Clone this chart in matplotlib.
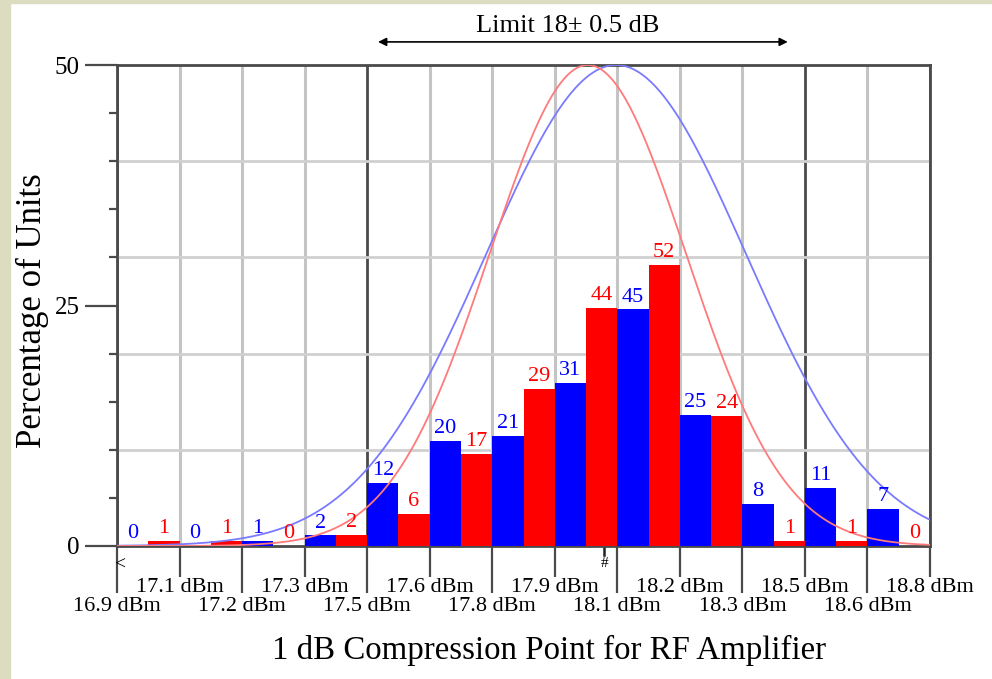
import numpy as np
import matplotlib
matplotlib.use("Agg")
import matplotlib.pyplot as plt
from matplotlib.patches import Rectangle

plt.rcParams['font.family'] = ['Liberation Serif', 'DejaVu Serif']

# tick labels at each grid line (bins between them)
tick_labels = ["16.9 dBm", "17.1 dBm", "17.2 dBm", "17.3 dBm", "17.5 dBm", "17.6 dBm", "17.8 dBm",
               "17.9 dBm", "18.1 dBm", "18.2 dBm", "18.3 dBm", "18.5 dBm", "18.6 dBm", "18.8 dBm"]

# unit counts per bin
blue_counts = [0, 0, 1, 2, 12, 20, 21, 31, 45, 25, 8, 11, 7]
red_counts = [1, 1, 0, 2, 6, 17, 29, 44, 52, 24, 1, 1, 0]

BLUE = "#0000ff"
RED = "#ff0000"

blue_counts = np.array(blue_counts)
red_counts = np.array(red_counts)
blue_pct = blue_counts / blue_counts.sum() * 100
red_pct = red_counts / red_counts.sum() * 100
n = len(blue_counts)
idx = np.arange(n)

fig = plt.figure(figsize=(9.92, 6.79), dpi=100)
# beige frame strips
fig.patches.append(Rectangle((0, 0), 10 / 992, 1, transform=fig.transFigure, color="#dcdcc0", zorder=0))
fig.patches.append(Rectangle((0, 1 - 3 / 679), 1, 3 / 679, transform=fig.transFigure, color="#dcdcc0", zorder=0))

ax = fig.add_axes([117 / 992, 1 - 546 / 679, (930 - 117) / 992, (546 - 65) / 679])
ax.set_xlim(0, n)
ax.set_ylim(0, 50)

# grid
for i in range(n + 1):
    if i in (0, 4, 11, 13):
        ax.axvline(i, color="#4a4a4a", lw=2.0, zorder=1)
    else:
        ax.axvline(i, color="#c4c4c4", lw=2.2, zorder=1)
for y in (10, 20, 30, 40):
    ax.axhline(y, color="#d0d0d0", lw=2.0, zorder=1)

# bars
ax.bar(idx + 0.25, blue_pct, width=0.5, color=BLUE, zorder=3)
ax.bar(idx + 0.75, red_pct, width=0.5, color=RED, zorder=3)
for i in range(n):
    ax.text(i + 0.25, blue_pct[i] + 0.3, str(blue_counts[i]), color=BLUE, ha="center", va="bottom",
            fontsize=16, zorder=5)
    ax.text(i + 0.75, red_pct[i] + 0.3, str(red_counts[i]), color=RED, ha="center", va="bottom",
            fontsize=16, zorder=5)

# fitted normal curves scaled to the top of the chart
xs = np.linspace(0, n, 600)
for counts, col in ((blue_counts, "#7a7aff"), (red_counts, "#ff7a7a")):
    c = idx + 0.5
    mu = (c * counts).sum() / counts.sum()
    sd = np.sqrt(((c - mu) ** 2 * counts).sum() / counts.sum())
    ax.plot(xs, 50 * np.exp(-(xs - mu) ** 2 / (2 * sd ** 2)), color=col, lw=1.3, zorder=4)

# axes styling
for s in ax.spines.values():
    s.set_color("#4a4a4a")
    s.set_linewidth(2.0)
ax.set_yticks([0, 25, 50])
ax.set_yticks(np.arange(5, 50, 5), minor=True)
ax.tick_params(axis="y", which="major", length=23, width=1.6, color="#4a4a4a", labelsize=18, pad=4)
ax.tick_params(axis="y", which="minor", length=6, width=1.6, color="#4a4a4a")

ax.set_xticks(np.arange(0, n + 1, 2))
ax.set_xticklabels(tick_labels[::2])
ax.set_xticks(np.arange(1, n + 1, 2), minor=True)
ax.set_xticklabels(tick_labels[1::2], minor=True)
ax.tick_params(axis="x", which="major", length=34, width=1.6, color="#4a4a4a", labelsize=16, pad=3)
ax.tick_params(axis="x", which="minor", length=22, width=1.6, color="#4a4a4a", labelsize=16, pad=1)

# small marks below the axis
ax.plot([7.79, 7.79], [0, -0.9], color="#222222", lw=1.8, clip_on=False)
ax.text(7.79, -1.8, "#", fontsize=11, ha="center", va="center", clip_on=False)
ax.text(0.05, -2.0, "<", fontsize=14, ha="center", va="center", clip_on=False)

# limit arrow
ax.annotate("", xy=(4.13, 52.4), xytext=(10.77, 52.4), xycoords="data",
            arrowprops=dict(arrowstyle="<|-|>", color="black", lw=1.2, mutation_scale=12),
            annotation_clip=False)
ax.text(7.2, 54.1, "Limit 18\u00b1 0.5 dB", fontsize=19, ha="center", va="center", clip_on=False)

fig.text(32 / 992, 1 - 311 / 679, "Percentage of Units", rotation=90, fontsize=25, ha="center", va="center")
fig.text(549 / 992, 1 - 650 / 679, "1 dB Compression Point for RF Amplifier", fontsize=23.7, ha="center", va="center")

fig.savefig("out.png", dpi=100)
